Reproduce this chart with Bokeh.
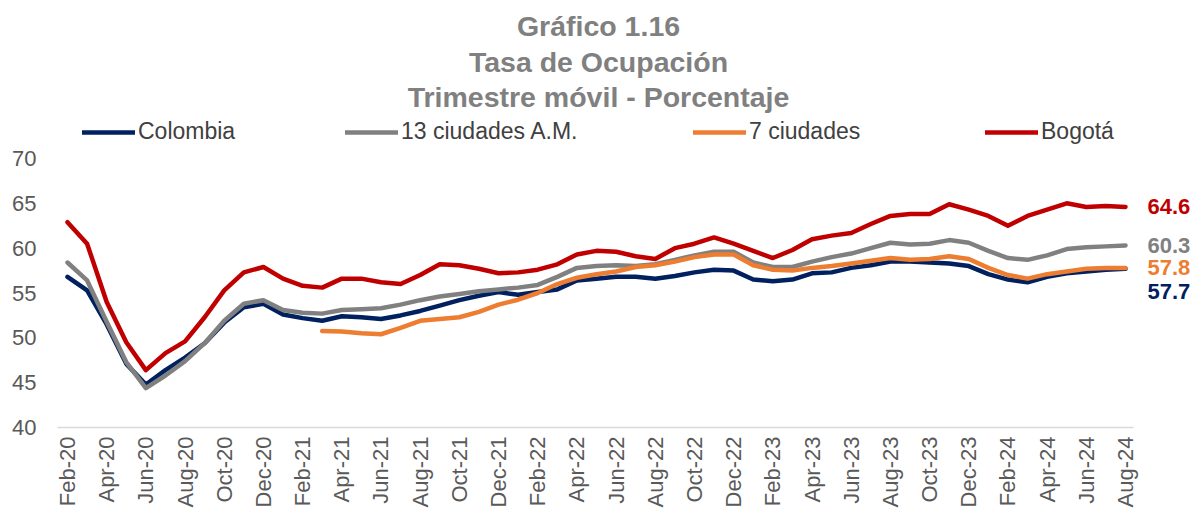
import math
from bokeh.plotting import figure
from bokeh.models import Label, Legend, LegendItem, FixedTicker, Range1d
from bokeh.embed import file_html
from bokeh.resources import INLINE

# ---------------- data ----------------
meses = ["Feb-20", "Mar-20", "Apr-20", "May-20", "Jun-20", "Jul-20", "Aug-20", "Sep-20", "Oct-20", "Nov-20", "Dec-20",
         "Jan-21", "Feb-21", "Mar-21", "Apr-21", "May-21", "Jun-21", "Jul-21", "Aug-21", "Sep-21", "Oct-21", "Nov-21", "Dec-21",
         "Jan-22", "Feb-22", "Mar-22", "Apr-22", "May-22", "Jun-22", "Jul-22", "Aug-22", "Sep-22", "Oct-22", "Nov-22", "Dec-22",
         "Jan-23", "Feb-23", "Mar-23", "Apr-23", "May-23", "Jun-23", "Jul-23", "Aug-23", "Sep-23", "Oct-23", "Nov-23", "Dec-23",
         "Jan-24", "Feb-24", "Mar-24", "Apr-24", "May-24", "Jun-24", "Jul-24", "Aug-24"]

colombia = [56.8, 55.3, 51.5, 47.1, 44.8, 46.4, 47.8, 49.4, 51.7, 53.4, 53.8,
            52.6, 52.2, 51.9, 52.4, 52.3, 52.1, 52.5, 53.0, 53.6, 54.2, 54.7, 55.1,
            54.8, 55.1, 55.4, 56.4, 56.6, 56.8, 56.8, 56.6, 56.9, 57.3, 57.6, 57.5,
            56.5, 56.3, 56.5, 57.2, 57.3, 57.8, 58.1, 58.5, 58.5, 58.4, 58.3, 58.0,
            57.1, 56.5, 56.2, 56.8, 57.2, 57.4, 57.6, 57.7]

trece_ciudades = [58.4, 56.4, 51.8, 47.3, 44.4, 45.8, 47.4, 49.4, 51.9, 53.8, 54.2,
                  53.1, 52.8, 52.7, 53.1, 53.2, 53.3, 53.7, 54.2, 54.6, 54.9, 55.2, 55.4,
                  55.6, 55.9, 56.8, 57.8, 58.0, 58.1, 58.0, 58.2, 58.7, 59.2, 59.6, 59.6,
                  58.4, 57.9, 57.9, 58.5, 59.0, 59.4, 60.0, 60.6, 60.4, 60.5, 60.9, 60.6,
                  59.7, 58.9, 58.7, 59.2, 59.9, 60.1, 60.2, 60.3]

# 7 ciudades starts in Mar-21
siete_inicio = "Mar-21"
siete_ciudades = [50.75, 50.7, 50.5, 50.4, 51.1, 51.9, 52.1, 52.3, 52.9, 53.7,
                  54.25, 55.0, 56.0, 56.7, 57.1, 57.4, 57.9, 58.1, 58.5, 59.0, 59.3, 59.3,
                  58.1, 57.6, 57.5, 57.8, 58.0, 58.3, 58.6, 58.9, 58.7, 58.8, 59.1, 58.8,
                  57.8, 57.0, 56.6, 57.1, 57.4, 57.7, 57.8, 57.8]

bogota = [62.9, 60.5, 54.0, 49.5, 46.4, 48.3, 49.6, 52.3, 55.3, 57.3, 57.9,
          56.6, 55.8, 55.6, 56.6, 56.6, 56.2, 56.0, 57.0, 58.2, 58.1, 57.7, 57.2,
          57.3, 57.6, 58.2, 59.3, 59.7, 59.6, 59.1, 58.8, 60.0, 60.5, 61.2, 60.5,
          59.7, 58.9, 59.8, 61.0, 61.4, 61.7, 62.7, 63.6, 63.8, 63.8, 64.9, 64.3,
          63.6, 62.5, 63.6, 64.3, 65.0, 64.6, 64.7, 64.6]

series_names = ["Colombia", "13 ciudades A.M.", "7 ciudades", "Bogotá"]
series_colors = ["#002060", "#808080", "#ED7D31", "#C00000"]
y_ticks = [40, 45, 50, 55, 60, 65, 70]
titulo = ["Gráfico 1.16", "Tasa de Ocupación", "Trimestre móvil - Porcentaje"]

# ---------------- layout ----------------
FONT = "Liberation Sans"
n = len(meses)
x_all = list(range(n))
i0 = meses.index(siete_inicio)
x_siete = list(range(i0, i0 + len(siete_ciudades)))

W, H = 1195, 517
LEFT, BOTTOM = 57, 90
FRAME_W = W - LEFT            # frame reaches right edge so end labels are not clipped
FRAME_H = H - BOTTOM
PX_PER_X = 1058 / (n - 1)     # first month 10 px inside the axis, last month 1058 px further
PX_PER_Y = 269 / 30
x_start = -10 / PX_PER_X
x_end = x_start + FRAME_W / PX_PER_X
y_top = 40 + FRAME_H / PX_PER_Y

p = figure(width=W, height=H, output_backend="svg", toolbar_location=None,
           x_range=Range1d(x_start, x_end), y_range=Range1d(40, y_top),
           min_border_left=LEFT, min_border_right=0, min_border_top=0, min_border_bottom=BOTTOM)
p.outline_line_color = None
p.xgrid.visible = False
p.ygrid.visible = False
p.background_fill_color = "white"
p.border_fill_color = "white"

renderers = []
for xs, ys, color in [(x_all, colombia, series_colors[0]), (x_all, trece_ciudades, series_colors[1]),
                      (x_siete, siete_ciudades, series_colors[2]), (x_all, bogota, series_colors[3])]:
    r = p.line(xs, ys, line_color=color, line_width=4.5, line_join="round", line_cap="round")
    renderers.append(r)

# axes
p.xaxis.bounds = (x_start, (n - 1) + 8 / PX_PER_X)
p.xaxis.ticker = FixedTicker(ticks=list(range(0, n, 2)))
p.xaxis.major_label_overrides = {i: meses[i] for i in range(0, n, 2)}
p.xaxis.major_label_orientation = math.pi / 2
p.xaxis.major_label_text_font = FONT
p.xaxis.major_label_text_font_size = "22px"
p.xaxis.major_label_text_color = "#595959"
p.xaxis.axis_line_color = "#D9D9D9"
p.xaxis.axis_line_width = 1.5
p.xaxis.major_tick_line_color = None
p.xaxis.minor_tick_line_color = None
p.xaxis.major_tick_out = 0
p.xaxis.major_tick_in = 0
p.xaxis.minor_tick_out = 0
p.xaxis.major_label_standoff = 9

p.yaxis.ticker = FixedTicker(ticks=y_ticks)
p.yaxis.major_label_text_font = FONT
p.yaxis.major_label_text_font_size = "22px"
p.yaxis.major_label_text_color = "#595959"
p.yaxis.axis_line_color = None
p.yaxis.major_tick_line_color = None
p.yaxis.minor_tick_line_color = None
p.yaxis.major_tick_out = 0
p.yaxis.major_tick_in = 0
p.yaxis.minor_tick_out = 0
p.yaxis.major_label_standoff = 21

# legend: one entry per legend box so each sits where the reference puts it
legend_x = [25, 288, 636, 928]
for k in range(4):
    lg = Legend(items=[LegendItem(label=series_names[k], renderers=[renderers[k]])],
                orientation="horizontal", location=(legend_x[k], 282),
                glyph_width=53, glyph_height=20, label_standoff=3,
                label_text_font=FONT, label_text_font_size="23px", label_text_color="#404040",
                border_line_alpha=0, background_fill_alpha=0, padding=0, margin=0)
    p.add_layout(lg)

# title (three lines)
for txt, off in zip(titulo, [133, 97, 62]):
    p.add_layout(Label(x=(n - 1) / 2, y=70, x_offset=2, y_offset=off, text=txt,
                       text_align="center", text_baseline="middle",
                       text_font=FONT, text_font_size="28.5px", text_font_style="bold",
                       text_color="#808080"))

# end-value labels
last_vals = [colombia[-1], trece_ciudades[-1], siete_ciudades[-1], bogota[-1]]
y_offs = [-23, 0, 0, 0]
for v, c, yo in zip(last_vals, series_colors, y_offs):
    p.add_layout(Label(x=n - 1, y=v, x_offset=22, y_offset=yo, text=f"{v:.1f}",
                       text_align="left", text_baseline="middle",
                       text_font=FONT, text_font_size="22px", text_font_style="bold",
                       text_color=c))

open("out.html", "w").write(file_html(p, INLINE))
